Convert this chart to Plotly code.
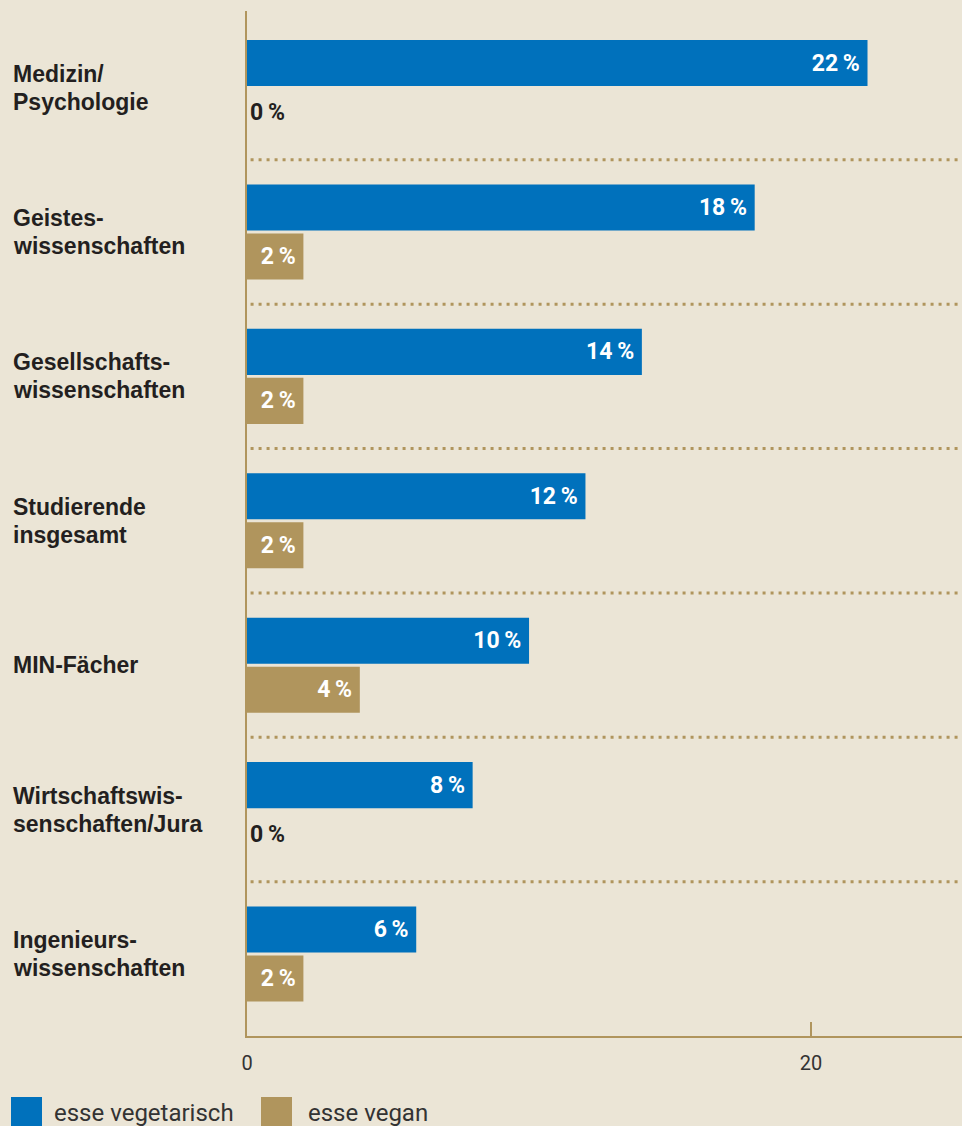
import plotly.graph_objects as go

categories = ["Medizin/<br>Psychologie", "Geistes-<br>wissenschaften", "Gesellschafts-<br>wissenschaften",
              "Studierende<br>insgesamt", "MIN-Fächer", "Wirtschaftswis-<br>senschaften/Jura",
              "Ingenieurs-<br>wissenschaften"]
vegetarisch = [22, 18, 14, 12, 10, 8, 6]
vegan = [0, 2, 2, 2, 4, 0, 2]
series_names = ["esse vegetarisch", "esse vegan"]
tick_vals = [0, 20]
tick_text = ["0", "20"]

BLUE = "#0071bc"
TAN = "#b0955d"
BG = "#ebe5d6"
DARK = "#231f20"
FONT = "Roboto"
CAT_FONT = "Liberation Sans"

W, H = 962, 1126
ML, MR, MT, MB = 247, 0, 11, 90
PW, PH = W - ML - MR, H - MT - MB


def xp(px):
    return (px - ML) / PW


def yp(py):
    return (H - MB - py) / PH


pos = list(range(len(categories)))


def labels(vals):
    return [f"{v}\u2009%\u2009" for v in vals]


def tpos(vals):
    return ["inside" if v > 0 else "outside" for v in vals]


fig = go.Figure()
for vals, name, color, off in [(vegetarisch, series_names[0], BLUE, -0.329),
                               (vegan, series_names[1], TAN, 0.0104)]:
    fig.add_trace(go.Bar(
        x=vals, y=pos, orientation="h", name=name,
        marker=dict(color=color, line=dict(width=0)),
        width=0.319, offset=off,
        text=labels(vals), textposition=tpos(vals), insidetextanchor="end",
        insidetextfont=dict(family=FONT, size=23, color="white", weight="bold"),
        outsidetextfont=dict(family=FONT, size=23, color=DARK, weight="bold"),
        constraintext="none", cliponaxis=False, hoverinfo="skip",
    ))

shapes = []
for i in range(len(categories) - 1):
    shapes.append(dict(type="line", xref="paper", yref="y", x0=0.005, x1=1, y0=i + 0.5, y1=i + 0.5,
                       line=dict(color=TAN, width=3, dash="3px,5px"), layer="below"))
# legend swatches
shapes.append(dict(type="rect", xref="paper", yref="paper", x0=xp(11), x1=xp(42), y0=yp(1131), y1=yp(1097),
                   fillcolor=BLUE, line=dict(width=0)))
shapes.append(dict(type="rect", xref="paper", yref="paper", x0=xp(261), x1=xp(292), y0=yp(1131), y1=yp(1097),
                   fillcolor=TAN, line=dict(width=0)))

annotations = []
LINE_H = 28
for i, c in enumerate(categories):
    lines = c.split("<br>")
    n = len(lines)
    for k, ln in enumerate(lines):
        shift = -((k - (n - 1) / 2) * LINE_H)
        annotations.append(dict(text=ln, xref="paper", yref="y", x=xp(11), y=i, xanchor="left",
                                yanchor="middle", yshift=shift, align="left", showarrow=False,
                                font=dict(family=CAT_FONT, size=23, color=DARK, weight="bold")))
annotations.append(dict(text=series_names[0], xref="paper", yref="paper", x=xp(52), y=yp(1113),
                        xanchor="left", yanchor="middle", showarrow=False,
                        font=dict(family=FONT, size=24, color="#333333")))
annotations.append(dict(text=series_names[1], xref="paper", yref="paper", x=xp(306), y=yp(1113),
                        xanchor="left", yanchor="middle", showarrow=False,
                        font=dict(family=FONT, size=24, color="#333333")))

fig.update_layout(
    width=W, height=H, margin=dict(l=ML, r=MR, t=MT, b=MB, pad=0),
    paper_bgcolor=BG, plot_bgcolor=BG, showlegend=False, barmode="overlay",
    shapes=shapes, annotations=annotations,
    xaxis=dict(range=[0, 25.35], tickvals=tick_vals, ticktext=tick_text, ticks="inside", ticklen=14,
               tickwidth=2, tickcolor=TAN, showline=True, linecolor=TAN, linewidth=2, showgrid=False,
               zeroline=False, tickfont=dict(family=FONT, size=20, color="#333333"), ticklabelstandoff=8),
    yaxis=dict(range=[6.568, -0.53], showline=True, linecolor=TAN, linewidth=2, showticklabels=False,
               showgrid=False, zeroline=False, ticks=""),
)

fig.write_html("out.html", config={"displayModeBar": False},
               post_script="document.body.style.margin='0';document.body.style.background='%s';" % BG)
